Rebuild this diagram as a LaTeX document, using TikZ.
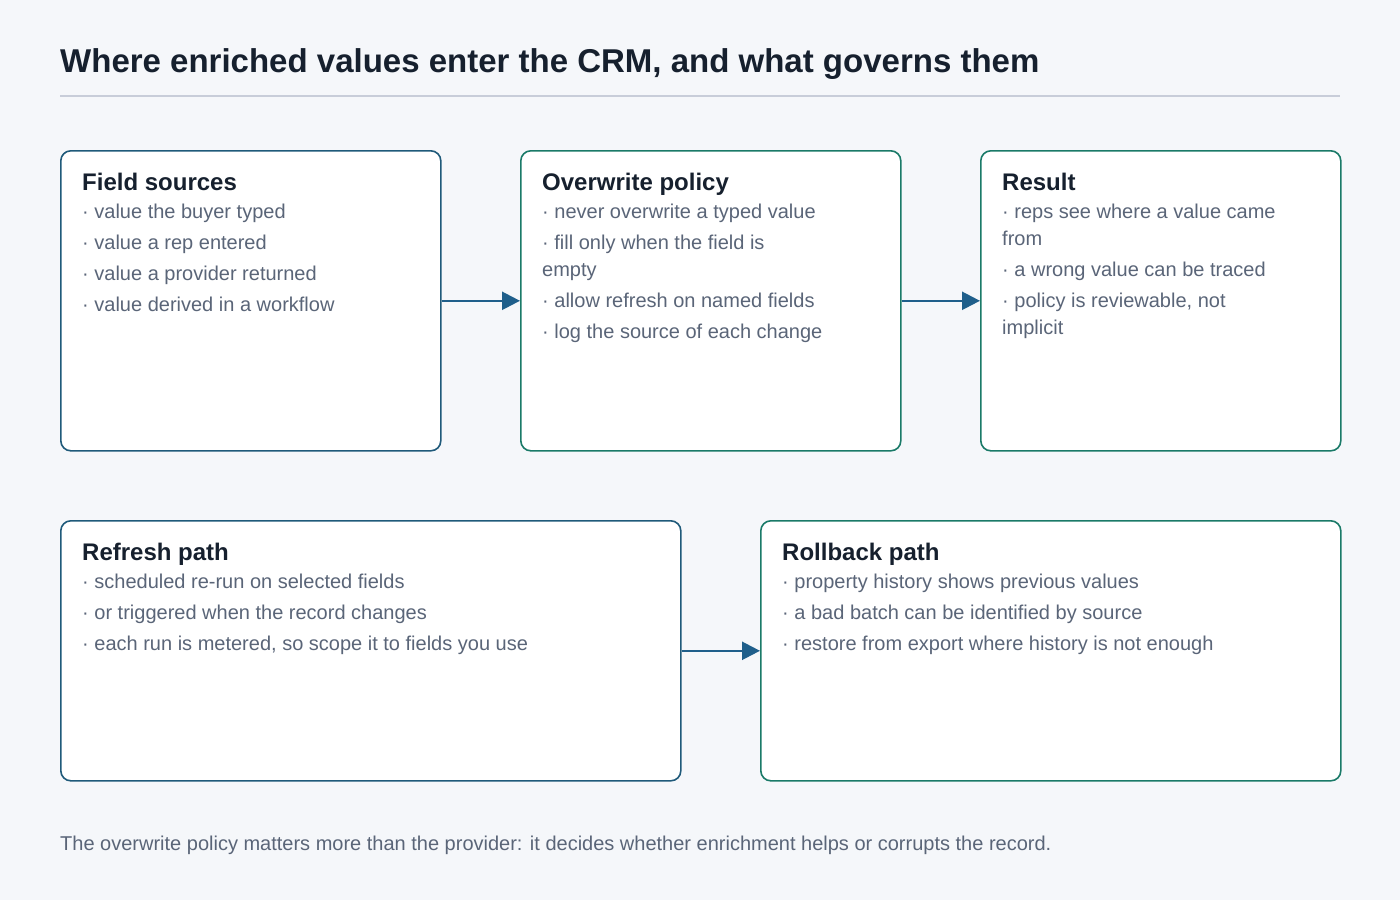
\documentclass[tikz,border=0pt]{standalone}
\usepackage{fontspec}
\setmainfont{Liberation Sans}
\definecolor{bgc}{HTML}{F5F7FA}
\definecolor{ink}{HTML}{16202E}
\definecolor{muted}{HTML}{5A6578}
\definecolor{rulec}{HTML}{C8CDD9}
\definecolor{blueb}{HTML}{1F5A7A}
\definecolor{tealb}{HTML}{1A7A68}
\definecolor{arrc}{HTML}{1F5F8B}
\usetikzlibrary{arrows.meta}
\tikzset{
  box/.style={draw, fill=white, line width=1.6pt, rounded corners=10pt, anchor=north west, inner sep=0pt},
  head/.style={anchor=base west, inner sep=0pt, text=ink, font=\fontsize{24}{28}\selectfont\bfseries},
  items/.style={anchor=north west, inner sep=0pt, align=left, text=muted, font=\fontsize{20}{27}\selectfont},
  arr/.style={draw=arrc, line width=2.4pt, -{Triangle[length=18pt,width=18pt]}}
}
\newcommand{\gap}{\\[4pt]}
\begin{document}
\begin{tikzpicture}[x=1pt,y=-1pt]
		\fill[bgc] (0,0) rectangle (1400,900);
		\useasboundingbox (0,0) rectangle (1400,900);
		\node[anchor=base west, inner sep=0pt, text=ink, font=\fontsize{33}{38}\selectfont\bfseries] (title) at (60,72) {Where enriched values enter the CRM, and what governs them};
		\draw[rulec, line width=1.5pt] (60,96) -- (1340,96);
		% top row
		\node[box, draw=blueb, minimum width=380pt, minimum height=300pt] (sources) at (60,150) {};
		\node[box, draw=tealb, minimum width=380pt, minimum height=300pt] (policy) at (520,150) {};
		\node[box, draw=tealb, minimum width=360pt, minimum height=300pt] (result) at (980,150) {};
		% bottom row
		\node[box, draw=blueb, minimum width=620pt, minimum height=260pt] (refresh) at (60,520) {};
		\node[box, draw=tealb, minimum width=580pt, minimum height=260pt] (rollback) at (760,520) {};
		\node[head] (sourcesh) at (82,190) {Field sources};
		\node[items] (sourcest) at (82,204) {· value the buyer typed\gap · value a rep entered\gap · value a provider returned\gap · value derived in a workflow};
		\node[head] (policyh) at (542,190) {Overwrite policy};
		\node[items] (policyt) at (542,204) {· never overwrite a typed value\gap · fill only when the field is\\empty\gap · allow refresh on named fields\gap · log the source of each change};
		\node[head] (resulth) at (1002,190) {Result};
		\node[items] (resultt) at (1002,204) {· reps see where a value came\\from\gap · a wrong value can be traced\gap · policy is reviewable, not\\implicit};
		\node[head] (refreshh) at (82,560) {Refresh path};
		\node[items] (refresht) at (82,574) {· scheduled re-run on selected fields\gap · or triggered when the record changes\gap · each run is metered, so scope it to fields you use};
		\node[head] (rollbackh) at (782,560) {Rollback path};
		\node[items] (rollbackt) at (782,574) {· property history shows previous values\gap · a bad batch can be identified by source\gap · restore from export where history is not enough};
		\draw[arr] (sources) -- (policy);
		\draw[arr] (policy) -- (result);
		\draw[arr] (refresh) -- (rollback);
		\node[anchor=base west, inner sep=0pt, text=muted, font=\fontsize{20}{24}\selectfont] (note) at (60,850) {The overwrite policy matters more than the provider: it decides whether enrichment helps or corrupts the record.};
\end{tikzpicture}
\end{document}
